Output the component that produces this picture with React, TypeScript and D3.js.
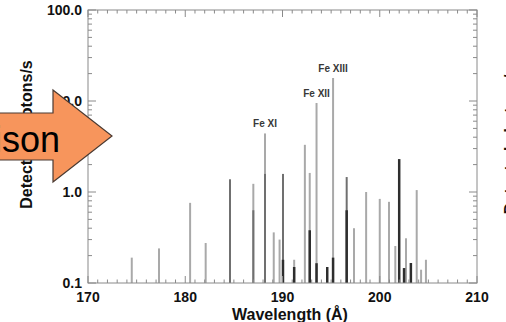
import * as d3 from 'd3';
import React, { useEffect, useRef } from 'react';

// light grey spectrum (wavelength in Å, photons/s)
const lightWave = [174.5, 177.3, 180.5, 182.1, 187.0, 188.2, 189.1, 189.7, 191.2, 192.3, 192.8, 193.5, 195.2, 197.35, 198.6, 200.0, 200.95, 201.6, 202.7, 203.8, 204.25, 204.75];
const lightVal = [0.19, 0.24, 0.76, 0.275, 1.23, 4.4, 0.36, 0.30, 0.18, 3.3, 1.62, 9.5, 17.9, 0.40, 1.0, 0.84, 0.78, 0.255, 0.31, 1.05, 0.14, 0.18];

// medium grey spectrum
const midWave = [184.6, 187.0, 188.2, 190.05, 196.6];
const midVal = [1.38, 0.63, 1.58, 1.58, 1.46];

// dark spectrum
const darkWave = [190.05, 191.2, 192.8, 193.5, 194.6, 195.2, 196.6, 202.0, 202.5, 203.2];
const darkVal = [0.18, 0.15, 0.38, 0.165, 0.15, 0.19, 0.63, 2.3, 0.146, 0.166];

// line identifications
const ionNames = ['Fe XI', 'Fe XII', 'Fe XIII'];
const ionWave = [188.2, 193.5, 195.2];
const ionVal = [4.4, 9.5, 17.9];

const xTickLabels = [170, 180, 190, 200, 210];
const yTickLabels = [0.1, 1, 10, 100];

const W = 506;
const H = 322;

function SpectrumChart() {
    const svgRef = useRef<SVGSVGElement>(null);

    useEffect(() => {
        const svg = d3.select(svgRef.current);
        svg.selectAll('*').remove();

        const margin = { top: 10, right: 29, bottom: 39, left: 88 };
        const innerW = W - margin.left - margin.right;
        const innerH = H - margin.top - margin.bottom;

        svg.append('rect').attr('width', W).attr('height', H).attr('fill', '#fff');

        const g = svg.append('g').attr('transform', `translate(${margin.left},${margin.top})`);

        const x = d3.scaleLinear().domain([170, 210]).range([0, innerW]);
        const y = d3.scaleLog().domain([0.1, 100]).range([innerH, 0]);

        // --- spectral lines ---
        const drawLines = (waves: number[], vals: number[], color: string, w: number) => {
            g.append('g')
                .selectAll('line')
                .data(waves.map((d, i) => ({ w: d, v: vals[i] })))
                .join('line')
                .attr('x1', d => x(d.w))
                .attr('x2', d => x(d.w))
                .attr('y1', y(0.1))
                .attr('y2', d => y(d.v))
                .attr('stroke', color)
                .attr('stroke-width', w);
        };
        drawLines(lightWave, lightVal, '#a9a9a9', 2);
        drawLines(midWave, midVal, '#707070', 2);
        drawLines(darkWave, darkVal, '#2e2e2e', 2.5);

        // --- ion labels ---
        g.append('g')
            .selectAll('text')
            .data(ionNames.map((n, i) => ({ n, w: ionWave[i], v: ionVal[i] })))
            .join('text')
            .attr('x', d => x(d.w))
            .attr('y', d => y(d.v) - 6)
            .attr('text-anchor', 'middle')
            .style('font-family', '"Liberation Sans", Arial, sans-serif')
            .style('font-size', '10px')
            .style('font-weight', 'bold')
            .attr('fill', '#383838')
            .text(d => d.n);

        // --- frame and ticks ---
        const axisColor = '#8a8a8a';
        g.append('rect')
            .attr('width', innerW)
            .attr('height', innerH)
            .attr('fill', 'none')
            .attr('stroke', axisColor)
            .attr('stroke-width', 1);

        const xt = x.ticks(40);
        const isMajorX = (d: number) => d % 10 === 0;
        g.append('g').selectAll('line').data(xt).join('line')
            .attr('x1', d => x(d)).attr('x2', d => x(d))
            .attr('y1', innerH).attr('y2', d => innerH - (isMajorX(d) ? 7 : 3.5))
            .attr('stroke', axisColor);
        g.append('g').selectAll('line').data(xt).join('line')
            .attr('x1', d => x(d)).attr('x2', d => x(d))
            .attr('y1', 0).attr('y2', d => (isMajorX(d) ? 7 : 3.5))
            .attr('stroke', axisColor);

        const yt = y.ticks();
        const isMajorY = (d: number) => Math.abs(Math.log10(d) - Math.round(Math.log10(d))) < 1e-6;
        g.append('g').selectAll('line').data(yt).join('line')
            .attr('x1', 0).attr('x2', d => (isMajorY(d) ? 8 : 4))
            .attr('y1', d => y(d)).attr('y2', d => y(d))
            .attr('stroke', axisColor);
        g.append('g').selectAll('line').data(yt).join('line')
            .attr('x1', innerW).attr('x2', d => innerW - (isMajorY(d) ? 8 : 4))
            .attr('y1', d => y(d)).attr('y2', d => y(d))
            .attr('stroke', axisColor);

        const labelFont = (s: any) => s
            .style('font-family', '"Liberation Sans", Arial, sans-serif')
            .style('font-weight', 'bold')
            .attr('fill', '#111');

        g.append('g').selectAll('text').data(xTickLabels).join('text')
            .attr('x', d => x(d))
            .attr('y', innerH + 19)
            .attr('text-anchor', 'middle')
            .style('font-size', '14px')
            .call(labelFont)
            .text(d => d);

        g.append('g').selectAll('text').data(yTickLabels).join('text')
            .attr('x', -6)
            .attr('y', d => y(d) + 5)
            .attr('text-anchor', 'end')
            .style('font-size', '14px')
            .call(labelFont)
            .text(d => d3.format('.1f')(d));

        // axis titles
        svg.append('text')
            .attr('x', 290)
            .attr('y', 320)
            .attr('text-anchor', 'middle')
            .style('font-size', '16px')
            .call(labelFont)
            .text('Wavelength (Å)');

        svg.append('text')
            .attr('transform', 'translate(32,134.5) rotate(-90)')
            .attr('text-anchor', 'middle')
            .style('font-size', '16px')
            .call(labelFont)
            .text('Detected photons/s');

        // neighbouring panel's title, cut by the edge
        svg.append('text')
            .attr('transform', 'translate(516,140) rotate(-90)')
            .attr('text-anchor', 'middle')
            .style('font-size', '16px')
            .call(labelFont)
            .text('Detected photons/s');

        // --- overlay arrow ---
        const arrow = svg.append('g');
        arrow.append('path')
            .attr('d', 'M-10,113 L53,113 L53,90 L112,136 L53,182 L53,160 L-10,160 Z')
            .attr('fill', '#f7955c')
            .attr('stroke', '#4a3a32')
            .attr('stroke-width', 1.2);
        arrow.append('text')
            .attr('x', 60)
            .attr('y', 152)
            .attr('text-anchor', 'end')
            .style('font-family', '"Liberation Sans", Arial, sans-serif')
            .style('font-size', '36px')
            .attr('fill', '#000')
            .text('Comparison');
    }, []);

    return <svg ref={svgRef} width={W} height={H} style={{ position: 'fixed', left: 0, top: 0 }} />;
}

export default function App() {
    return <SpectrumChart />;
}
